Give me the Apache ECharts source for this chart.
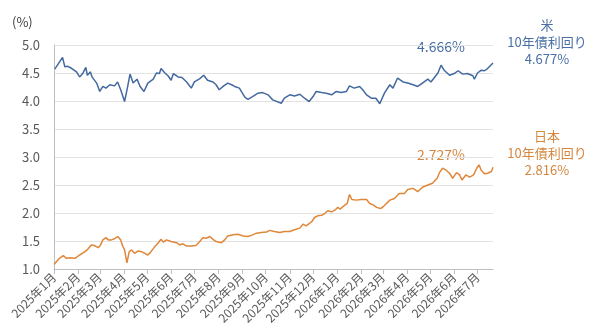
<!DOCTYPE html>
<html>
<head>
<meta charset="utf-8">
<script src="https://cdn.jsdelivr.net/npm/echarts@6/dist/echarts.min.js"></script>
<style>
  html, body { margin: 0; padding: 0; background: #fff; }
  #chart { width: 600px; height: 333px; }
</style>
</head>
<body>
<div id="chart"></div>
<script>
  // 米10年債利回り
  var usDates = ['2025-01-02', '2025-01-12', '2025-01-15', '2025-01-19', '2025-01-24', '2025-01-30', '2025-02-03', '2025-02-07', '2025-02-11', '2025-02-13',
    '2025-02-17', '2025-02-19', '2025-02-25', '2025-03-01', '2025-03-05', '2025-03-09', '2025-03-14', '2025-03-20', '2025-03-24', '2025-03-28',
    '2025-04-02', '2025-04-06', '2025-04-09', '2025-04-13', '2025-04-18', '2025-04-22', '2025-04-27', '2025-05-02', '2025-05-09', '2025-05-13',
    '2025-05-17', '2025-05-19', '2025-05-24', '2025-05-28', '2025-06-01', '2025-06-04', '2025-06-10', '2025-06-15', '2025-06-21', '2025-06-27',
    '2025-07-01', '2025-07-08', '2025-07-13', '2025-07-18', '2025-07-25', '2025-07-29', '2025-08-02', '2025-08-07', '2025-08-13', '2025-08-18',
    '2025-08-22', '2025-08-28', '2025-09-04', '2025-09-08', '2025-09-14', '2025-09-21', '2025-09-27', '2025-10-04', '2025-10-10', '2025-10-21',
    '2025-10-25', '2025-11-01', '2025-11-07', '2025-11-14', '2025-11-20', '2025-11-26', '2025-12-01', '2025-12-05', '2025-12-12', '2025-12-18',
    '2025-12-25', '2025-12-31', '2026-01-06', '2026-01-13', '2026-01-17', '2026-01-23', '2026-01-30', '2026-02-03', '2026-02-08', '2026-02-14',
    '2026-02-20', '2026-02-25', '2026-03-03', '2026-03-10', '2026-03-14', '2026-03-20', '2026-03-27', '2026-04-02', '2026-04-09', '2026-04-15',
    '2026-04-21', '2026-04-28', '2026-05-02', '2026-05-07', '2026-05-11', '2026-05-15', '2026-05-19', '2026-05-26', '2026-06-01', '2026-06-06',
    '2026-06-12', '2026-06-18', '2026-06-25', '2026-06-27', '2026-07-01', '2026-07-06', '2026-07-10', '2026-07-14', '2026-07-21']
  var usYield = [4.57, 4.78, 4.61, 4.62, 4.58, 4.52, 4.43, 4.49, 4.60, 4.46,
    4.52, 4.43, 4.32, 4.17, 4.26, 4.23, 4.29, 4.27, 4.34, 4.20,
    3.99, 4.26, 4.48, 4.32, 4.39, 4.26, 4.17, 4.32, 4.39, 4.50,
    4.49, 4.58, 4.50, 4.45, 4.37, 4.49, 4.43, 4.42, 4.34, 4.23,
    4.34, 4.40, 4.46, 4.37, 4.34, 4.29, 4.20, 4.26, 4.32, 4.29,
    4.26, 4.23, 4.07, 4.03, 4.08, 4.14, 4.15, 4.11, 4.02, 3.96,
    4.05, 4.11, 4.09, 4.12, 4.05, 3.99, 4.08, 4.17, 4.15, 4.14,
    4.11, 4.17, 4.15, 4.17, 4.27, 4.23, 4.26, 4.20, 4.11, 4.05,
    4.05, 3.95, 4.14, 4.29, 4.23, 4.41, 4.34, 4.32, 4.29, 4.26,
    4.32, 4.39, 4.34, 4.43, 4.50, 4.64, 4.55, 4.46, 4.49, 4.54,
    4.48, 4.49, 4.45, 4.39, 4.50, 4.55, 4.54, 4.58, 4.677]

  // 日本10年債利回り
  var jpDates = ['2025-01-01', '2025-01-04', '2025-01-08', '2025-01-13', '2025-01-17', '2025-01-21', '2025-01-28', '2025-02-03', '2025-02-10', '2025-02-14',
    '2025-02-18', '2025-02-22', '2025-02-27', '2025-03-02', '2025-03-05', '2025-03-09', '2025-03-12', '2025-03-16', '2025-03-20', '2025-03-24',
    '2025-03-28', '2025-03-30', '2025-04-02', '2025-04-05', '2025-04-08', '2025-04-11', '2025-04-15', '2025-04-19', '2025-04-24', '2025-04-28',
    '2025-05-02', '2025-05-06', '2025-05-11', '2025-05-15', '2025-05-19', '2025-05-22', '2025-05-26', '2025-06-01', '2025-06-08', '2025-06-12',
    '2025-06-16', '2025-06-21', '2025-06-27', '2025-07-03', '2025-07-08', '2025-07-12', '2025-07-16', '2025-07-21', '2025-07-25', '2025-07-29',
    '2025-08-05', '2025-08-09', '2025-08-13', '2025-08-20', '2025-08-26', '2025-09-02', '2025-09-08', '2025-09-14', '2025-09-19', '2025-09-25',
    '2025-10-02', '2025-10-06', '2025-10-12', '2025-10-19', '2025-10-25', '2025-11-01', '2025-11-07', '2025-11-14', '2025-11-18', '2025-11-22',
    '2025-11-29', '2025-12-03', '2025-12-07', '2025-12-12', '2025-12-16', '2025-12-20', '2025-12-25', '2025-12-29', '2026-01-02', '2026-01-05',
    '2026-01-09', '2026-01-14', '2026-01-17', '2026-01-20', '2026-01-26', '2026-02-01', '2026-02-08', '2026-02-12', '2026-02-17', '2026-02-21',
    '2026-02-26', '2026-03-02', '2026-03-10', '2026-03-16', '2026-03-22', '2026-03-29', '2026-04-02', '2026-04-09', '2026-04-15', '2026-04-21',
    '2026-04-28', '2026-05-04', '2026-05-10', '2026-05-13', '2026-05-17', '2026-05-22', '2026-05-26', '2026-05-30', '2026-06-04', '2026-06-08',
    '2026-06-11', '2026-06-16', '2026-06-21', '2026-06-26', '2026-06-30', '2026-07-03', '2026-07-06', '2026-07-10', '2026-07-14', '2026-07-19',
    '2026-07-21']
  var jpYield = [1.08, 1.13, 1.19, 1.24, 1.19, 1.20, 1.19, 1.25, 1.31, 1.36,
    1.43, 1.42, 1.38, 1.43, 1.52, 1.56, 1.52, 1.52, 1.54, 1.58,
    1.52, 1.43, 1.34, 1.11, 1.31, 1.34, 1.28, 1.32, 1.31, 1.28,
    1.25, 1.31, 1.40, 1.46, 1.53, 1.48, 1.52, 1.49, 1.47, 1.43,
    1.45, 1.41, 1.41, 1.42, 1.49, 1.56, 1.55, 1.58, 1.53, 1.49,
    1.47, 1.52, 1.59, 1.61, 1.62, 1.59, 1.58, 1.61, 1.64, 1.65,
    1.66, 1.69, 1.67, 1.65, 1.67, 1.67, 1.70, 1.73, 1.80, 1.77,
    1.84, 1.92, 1.95, 1.96, 1.99, 2.04, 2.02, 2.05, 2.10, 2.07,
    2.12, 2.17, 2.33, 2.24, 2.23, 2.24, 2.24, 2.17, 2.14, 2.10,
    2.08, 2.12, 2.23, 2.26, 2.35, 2.35, 2.42, 2.44, 2.38, 2.46,
    2.50, 2.53, 2.62, 2.72, 2.80, 2.76, 2.71, 2.62, 2.72, 2.68,
    2.59, 2.68, 2.64, 2.68, 2.80, 2.86, 2.76, 2.70, 2.71, 2.74,
    2.816]

  var yTicks = [1.0, 1.5, 2.0, 2.5, 3.0, 3.5, 4.0, 4.5, 5.0]
  var usPrev = '4.666%'
  var jpPrev = '2.727%'

  var blue = '#43699f'
  var orange = '#e0873a'
  var font = '"Noto Sans CJK JP", "Noto Sans", sans-serif'
  var DAY = 24 * 3600 * 1000

  function pairs (dates, values) {
    var out = []
    dates.map(function (d, i) {
      out.push([d, values[i]])
    })
    return out
  }

  var myChart = echarts.init(document.getElementById('chart'), null, {renderer: 'canvas'})
  var option = {
    animation: false,
    backgroundColor: '#fff',
    textStyle: {fontFamily: font},
    grid: {left: 54, right: 107, top: 45, bottom: 64, containLabel: false},
    xAxis: {
      type: 'time',
      min: '2025-01-01',
      max: '2026-07-21',
      minInterval: 28 * DAY,
      maxInterval: 31 * DAY,
      splitNumber: 19,
      axisLine: {show: true, lineStyle: {color: '#bfbfbf'}},
      axisTick: {show: true, length: 5, lineStyle: {color: '#bfbfbf'}},
      splitLine: {show: false},
      axisLabel: {
        rotate: 45,
        fontSize: 12,
        color: '#595959',
        margin: 6,
        hideOverlap: false,
        formatter: '{yyyy}年{M}月'
      }
    },
    yAxis: {
      type: 'value',
      min: yTicks[0],
      max: yTicks[yTicks.length - 1],
      interval: 0.5,
      axisLine: {show: true, lineStyle: {color: '#bfbfbf'}},
      axisTick: {show: false},
      splitLine: {show: true, lineStyle: {color: '#e3e3e3'}},
      axisLabel: {
        fontSize: 13,
        color: '#595959',
        margin: 14,
        formatter: function (v) { return v.toFixed(1) }
      }
    },
    series: [{
      name: '米10年債利回り',
      type: 'line',
      data: pairs(usDates, usYield),
      showSymbol: false,
      lineStyle: {color: blue, width: 1.5},
      itemStyle: {color: blue}
    }, {
      name: '日本10年債利回り',
      type: 'line',
      data: pairs(jpDates, jpYield),
      showSymbol: false,
      lineStyle: {color: orange, width: 1.5},
      itemStyle: {color: orange}
    }],
    graphic: [{
      type: 'text', left: 12, top: 16,
      style: {text: '(%)', fontSize: 13, fill: '#404040', fontFamily: font}
    }, {
      type: 'text', x: 441, y: 47,
      style: {text: usPrev, fontSize: 14, fill: '#4a6fa5', fontFamily: font, align: 'center', verticalAlign: 'middle',
        backgroundColor: '#fff', padding: [0, 5]}
    }, {
      type: 'text', x: 441, y: 155,
      style: {text: jpPrev, fontSize: 14, fill: '#d4873f', fontFamily: font, align: 'center', verticalAlign: 'middle',
        backgroundColor: '#fff', padding: [0, 5]}
    }, {
      type: 'text', x: 547, y: 17,
      style: {text: '米\n10年債利回り\n' + usYield[usYield.length - 1] + '%', fontSize: 13, lineHeight: 17,
        fill: '#4a6fa5', fontFamily: font, align: 'center'}
    }, {
      type: 'text', x: 547, y: 128,
      style: {text: '日本\n10年債利回り\n' + jpYield[jpYield.length - 1] + '%', fontSize: 13, lineHeight: 17,
        fill: '#d4873f', fontFamily: font, align: 'center'}
    }]
  }
  myChart.setOption(option)
  window.onresize = function () {
    myChart.resize()
  }
</script>
</body>
</html>
